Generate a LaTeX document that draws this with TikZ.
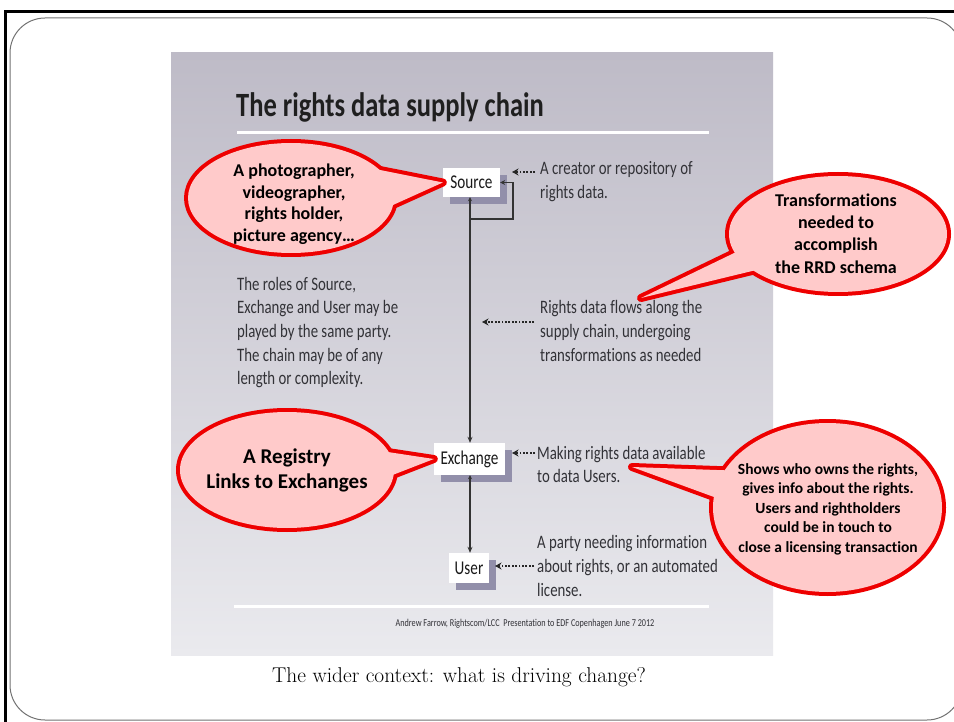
\documentclass[tikz,border=0pt]{standalone}
\usepackage{fontspec}
\newfontfamily\slidefont{Carlito}[FakeStretch=0.78, Ligatures={NoCommon}, RawFeature={-calt;-clig;-dlig}]
\newfontfamily\callfont{Carlito}[Ligatures={NoCommon}, RawFeature={-calt;-clig;-dlig}]
\usetikzlibrary{arrows.meta,shadows,calc}
\definecolor{panelTop}{RGB}{190,187,199}
\definecolor{panelBot}{RGB}{234,234,238}
\definecolor{shadowc}{RGB}{146,143,170}
\definecolor{slidetext}{RGB}{50,50,55}
\definecolor{calred}{RGB}{238,0,0}
\definecolor{calpink}{RGB}{255,202,202}
\tikzset{
  box/.style={fill=white, inner sep=0pt, text=black!90,
    font=\slidefont\fontsize{19.5}{19.5}\selectfont,
    drop shadow={shadow xshift=7pt, shadow yshift=-7pt, fill=shadowc, opacity=1}},
  body/.style={anchor=west, align=left, text=slidetext, inner sep=0pt,
    font=\slidefont\fontsize{19}{23.7}\selectfont},
  flow/.style={draw=black!80, line width=1.4pt, {Stealth[length=4pt,width=4pt]}-{Stealth[length=6pt,width=5pt]}},
  dotarrow/.style={draw=black!85, line width=2.4pt, dash pattern=on 1.8pt off 1.6pt, -{Stealth[length=6.5pt,width=7pt]}},
  calstroke/.style={draw=calred, line width=8pt, line join=round},
  calfill/.style={fill=calpink},
  caltext/.style={align=center, text=black, inner sep=0pt}
}
\begin{document}
\begin{tikzpicture}[x=1pt,y=-1pt]
\useasboundingbox (0,0) rectangle (954,722);
\fill[white] (0,0) rectangle (954,722);
% frame
\draw[line width=1pt, black!55, rounded corners=35pt] (10,18) rectangle (962,720);
\draw[line width=2.2pt] (5.5,724) -- (5.5,11.5) -- (956,11.5);
% slide panel
\shade[top color=panelTop, bottom color=panelBot] (171,53) rectangle (773,655);
\node[anchor=west, inner sep=0pt, text=black!88, font=\slidefont\bfseries\fontsize{34}{34}\selectfont] (title) at (236,107.5) {The rights data supply chain};
\draw[white, line width=3pt] (237,133) -- (709,133);
% boxes
\node[box, minimum width=57pt, minimum height=29pt] (src) at (471.5,182.5) {Source};
\node[box, minimum width=71pt, minimum height=32pt] (exc) at (469.5,459) {Exchange};
\node[box, minimum width=40pt, minimum height=30pt] (usr) at (469,568) {User};
% connectors
\draw[flow] (src.south -| 470,0) -- (exc.north -| 470,0);
\draw[flow] (exc.south -| 470,0) -- (usr.north -| 470,0);
\coordinate (lpA) at (470,219);
\coordinate (lpB) at (513,219);
\coordinate (lpC) at (513,182.5);
\draw[draw=black!80, line width=1.4pt, -{Stealth[length=5pt,width=5pt]}] (lpA) -- (lpB) -- (lpC) -- (src.east);
% texts
\node[body] (t1) at (540,181.5) {A creator or repository of\\rights data.};
\node[body] (t2) at (540,331) {Rights data flows along the\\supply chain, undergoing\\transformat\kern0pt ions as needed};
\node[body] (t3) at (537,464.5) {Making rights data available\\to data Users.};
\node[body] (t4) at (537,566) {A party needing information\\about rights, or an automated\\license.};
\node[body] (t5) at (237,332.5) {The roles of Source,\\Exchange and User may be\\played by the same party.\\The chain may be of any\\length or complexity.};
% dotted arrows
\coordinate (d1) at (535,172);  \coordinate (d1e) at (512,172);
\coordinate (d2) at (534,322);  \coordinate (d2e) at (482,322);
\coordinate (d3) at (535,453);  \coordinate (d3e) at (512,453);
\coordinate (d4) at (534,566);  \coordinate (d4e) at (495,566);
\draw[dotarrow] (d1) -- (d1e);
\draw[dotarrow] (d2) -- (d2e);
\draw[dotarrow] (d3) -- (d3e);
\draw[dotarrow] (d4) -- (d4e);
% footer
\draw[white, line width=3pt] (234,606) -- (709,606);
\node[inner sep=0pt, text=slidetext, font=\slidefont\fontsize{10.5}{10.5}\selectfont] (credit) at (525,624) {Andrew Farrow, Rightscom/LCC\ \ Presentation to EDF Copenhagen June 7 2012};
\node[inner sep=0pt, font=\fontsize{21.4}{21.4}\selectfont] (caption) at (459,677) {The wider context: what is driving change?};
% callouts: stroke pass
\draw[calstroke] (291,198) ellipse [x radius=103, y radius=55];
\draw[calstroke] (370,168) -- (src.west) -- (383,209.5) -- cycle;
\draw[calstroke] (838,234) ellipse [x radius=109, y radius=58];
\draw[calstroke] (757,242) -- (641,298) -- (785,263) -- cycle;
\draw[calstroke] (287,470) ellipse [x radius=107, y radius=58];
\draw[calstroke] (368,449) -- (exc.west) -- (372,483) -- cycle;
\draw[calstroke] (827.5,507.5) ellipse [x radius=114.5, y radius=84.5];
\draw[calstroke] (745,471) -- (632,467) -- (755,512) -- cycle;
% callouts: fill pass
\fill[calfill] (291,198) ellipse [x radius=103, y radius=55];
\fill[calfill] (370,168) -- (src.west) -- (383,209.5) -- cycle;
\fill[calfill] (838,234) ellipse [x radius=109, y radius=58];
\fill[calfill] (757,242) -- (641,298) -- (785,263) -- cycle;
\fill[calfill] (287,470) ellipse [x radius=107, y radius=58];
\fill[calfill] (368,449) -- (exc.west) -- (372,483) -- cycle;
\fill[calfill] (827.5,507.5) ellipse [x radius=114.5, y radius=84.5];
\fill[calfill] (745,471) -- (632,467) -- (755,512) -- cycle;
% callout texts
\node[caltext, font=\callfont\bfseries\fontsize{18}{21.5}\selectfont] (c1) at (294,204) {A photographer,\\videographer,\\rights holder,\\picture agency\dots};
\node[caltext, font=\callfont\bfseries\fontsize{18}{22.3}\selectfont] (c2) at (836,233.5) {Transformat\kern0pt ions\\needed to\\accomplish\\the RRD schema};
\node[caltext, font=\callfont\bfseries\fontsize{21}{25}\selectfont] (c3) at (287,470.5) {A Registry\\Links to Exchanges};
\node[caltext, font=\callfont\bfseries\fontsize{15.5}{19.5}\selectfont] (c4) at (828,509) {Shows who owns the rights,\\gives info about the rights.\\Users and rightholders\\could be in touch to\\close a licensing transaction};
\end{tikzpicture}
\end{document}
